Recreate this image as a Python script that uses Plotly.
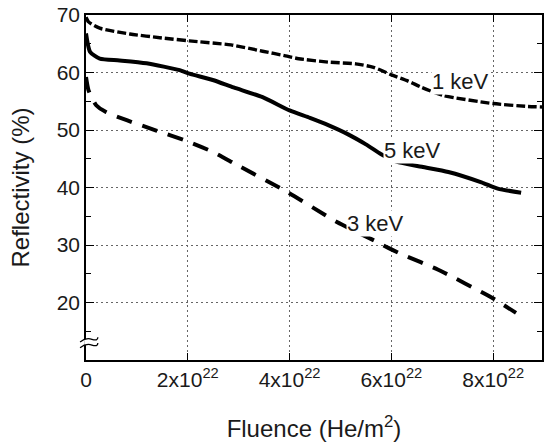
import numpy as np
import plotly.graph_objects as go

# Fluence in units of 1e22 He/m^2, reflectivity in %
f_1kev = [0.0, 0.05, 0.27, 0.86, 1.5, 2.03, 2.85, 3.47, 3.92, 4.18, 4.77, 5.3, 5.65, 6.0, 6.33, 6.6, 7.02, 8.0, 8.68, 8.96]
r_1kev = [69.6, 68.8, 67.7, 66.7, 66.0, 65.5, 64.8, 63.7, 62.9, 62.4, 61.8, 61.5, 60.9, 59.6, 58.5, 57.4, 56.0, 54.6, 54.1, 54.0]

f_5kev = [0.0, 0.08, 0.27, 0.66, 1.19, 1.84, 2.03, 2.49, 2.9, 3.47, 4.0, 4.4, 4.77, 5.16, 5.5, 5.8, 6.1, 6.6, 7.12, 7.77, 8.09, 8.55]
r_5kev = [66.8, 63.6, 62.4, 62.1, 61.6, 60.4, 59.8, 58.7, 57.4, 55.7, 53.4, 52.1, 50.8, 49.2, 47.5, 45.8, 44.5, 43.6, 42.7, 40.9, 39.8, 39.1]

f_3kev = [0.0, 0.05, 0.2, 0.4, 0.8, 1.38, 1.97, 2.49, 2.95, 3.96, 4.93, 5.68, 5.94, 6.2, 6.92, 7.96, 8.45]
r_3kev = [59.2, 56.9, 54.3, 53.1, 51.7, 49.9, 48.1, 46.2, 44.0, 39.2, 34.0, 30.7, 29.5, 28.4, 25.7, 20.9, 18.2]

x_tickvals = [0, 2, 4, 6, 8]
x_ticktext = ["0", "2x10<sup>22</sup>", "4x10<sup>22</sup>", "6x10<sup>22</sup>", "8x10<sup>22</sup>"]
y_tickvals = [20, 30, 40, 50, 60, 70]

labels = ["1 keV", "5 keV", "3 keV"]
label_x = [7.35, 6.42, 5.69]
label_y = [58.5, 46.5, 33.8]

SCALE = 1e22
FONT = "Liberation Sans, Arial, sans-serif"

fig = go.Figure()
fig.add_trace(go.Scatter(x=np.array(f_1kev) * SCALE, y=r_1kev, mode="lines",
                         line=dict(color="black", width=3.4, dash="9px,3px", shape="spline", smoothing=0.6)))
fig.add_trace(go.Scatter(x=np.array(f_5kev) * SCALE, y=r_5kev, mode="lines",
                         line=dict(color="black", width=4, shape="spline", smoothing=0.6)))
fig.add_trace(go.Scatter(x=np.array(f_3kev) * SCALE, y=r_3kev, mode="lines",
                         line=dict(color="black", width=4, dash="16px,11px", shape="spline", smoothing=0.6)))

for t, lx, ly in zip(labels, label_x, label_y):
    fig.add_annotation(x=lx * SCALE, y=ly, text=t, showarrow=False,
                       font=dict(family=FONT, size=22, color="#1a1a1a"),
                       bgcolor="white", borderpad=0)

# axis break symbol on the left axis
fig.add_shape(type="rect", xref="paper", yref="y", x0=-0.004, x1=0.004, y0=12.6, y1=13.6,
              fillcolor="white", line=dict(width=0), layer="above")
for yb in [12.6, 13.6]:
    fig.add_shape(type="path", xref="paper", yref="y",
                  path=f"M -0.013,{yb-0.45} Q 0.0,{yb+0.35} 0.013,{yb} T 0.026,{yb+0.35}",
                  line=dict(color="black", width=1.3), layer="above")

axis_common = dict(showline=True, linecolor="black", linewidth=1.5, mirror="ticks",
                   ticks="inside", tickcolor="black", tickwidth=1.2,
                   showgrid=True, gridcolor="#666666", griddash="2px,3px", gridwidth=1,
                   zeroline=False, tickfont=dict(family=FONT, size=21, color="#1a1a1a"),
                   title_font=dict(family=FONT, size=24, color="#1a1a1a"))

fig.update_xaxes(range=[0, 8.96 * SCALE], tickvals=[v * SCALE for v in x_tickvals], ticktext=x_ticktext,
                 ticklen=7, title_text="Fluence (He/m<sup>2</sup>)", title_standoff=30, **axis_common)
fig.update_yaxes(range=[10, 70], tickvals=y_tickvals, ticklen=8,
                 minor=dict(dtick=5, tick0=0, ticklen=5, ticks="inside", tickcolor="black", showgrid=False),
                 title_text="Reflectivity (%)", title_standoff=20, **axis_common)

fig.update_layout(width=544, height=443, margin=dict(l=86, r=0, t=15, b=83),
                  plot_bgcolor="white", paper_bgcolor="white", showlegend=False)

fig.write_html("out.html", config={"displayModeBar": False},
               post_script="document.body.style.margin='0';")
